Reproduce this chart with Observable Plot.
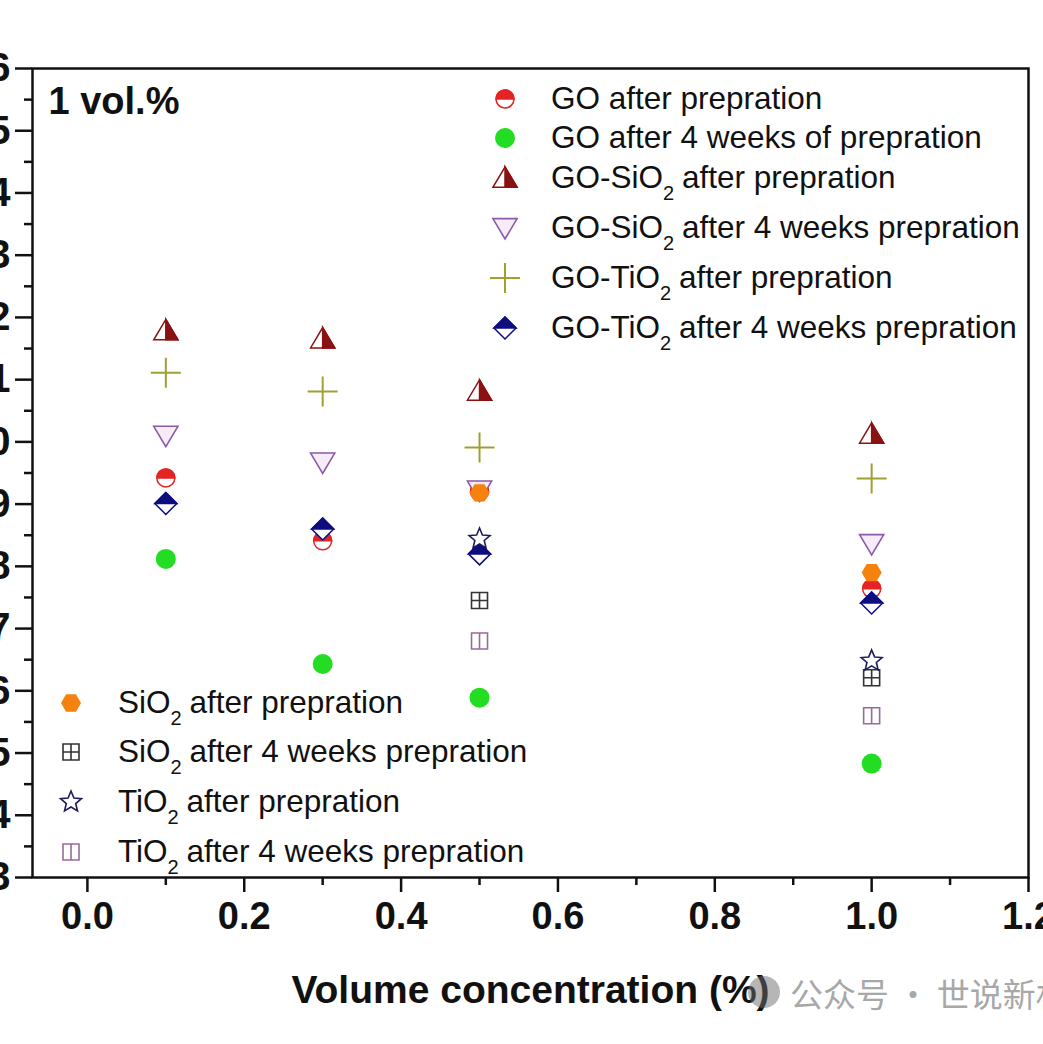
<!DOCTYPE html>
<html><head><meta charset="utf-8">
<script src="https://cdn.jsdelivr.net/npm/d3@7"></script>
<script src="https://cdn.jsdelivr.net/npm/@observablehq/plot@0.6"></script>
<style>
body{margin:0;background:#fff;}
#wrap{position:relative;width:1043px;height:1044px;overflow:hidden;background:#fff;}
#chart{position:absolute;left:-60px;top:0;}
.row{position:absolute;white-space:nowrap;display:flex;align-items:center;height:40px;font-family:"Liberation Sans",Arial,sans-serif;font-size:31.5px;color:#111;}
.row span{line-height:1;}
.row sub{font-size:20px;vertical-align:-12px;line-height:0;margin-right:-1px;}
#wm{position:absolute;left:790px;top:970px;font-family:"Noto Sans CJK SC",sans-serif;font-size:33px;color:#a8a8a8;white-space:nowrap;line-height:46px;}
#wmIcon{position:absolute;left:748px;top:976px;width:32px;height:32px;border-radius:50%;background:rgba(110,110,110,0.5);}
</style>
</head><body>
<div id="wrap"><div id="chart"></div><div id="legend"></div><div id="wmIcon"></div><div id="wm">公众号 · 世说新材</div></div>
<script>
// ---- data ----
const xConc = [0.1, 0.3, 0.5, 1.0];
const xConcOxide = [0.5, 1.0];
const goAfter = [9.42, 8.41, 9.20, 7.64];
const goFourWeeks = [8.12, 6.43, 5.89, 4.83];
const goSiO2After = [11.79, 11.66, 10.82, 10.13];
const goSiO2FourWeeks = [10.10, 9.67, 9.22, 8.36];
const goTiO2After = [11.11, 10.81, 9.91, 9.41];
const goTiO2FourWeeks = [9.01, 8.60, 8.20, 7.41];
const sio2After = [9.18, 7.90];
const sio2FourWeeks = [7.45, 6.21];
const tio2After = [8.44, 6.48];
const tio2FourWeeks = [6.80, 5.60];
const yTicks = d3.range(3, 17);
const yMinor = d3.range(3.5, 16, 1);
const xTicks = [0, 0.2, 0.4, 0.6, 0.8, 1.0, 1.2];
const xMinor = [0.1, 0.3, 0.5, 0.7, 0.9, 1.1];
const xLabel = "Volume concentration (%)";
const panelLabel = "1 vol.%";

// ---- symbols ----
function sym(fn){ return {draw(c, size){ const r = Math.sqrt(size/Math.PI); fn(c, r); }}; }
const S = {
  circle: sym((c,r)=>{c.moveTo(r,0); c.arc(0,0,r,0,2*Math.PI);}),
  topHalf: sym((c,r)=>{c.moveTo(r,0); c.arc(0,0,r,0,Math.PI,true); c.closePath();}),
  triUp: sym((c,r)=>{c.moveTo(0,-r); c.lineTo(1.1*r,0.85*r); c.lineTo(-1.1*r,0.85*r); c.closePath();}),
  triUpRight: sym((c,r)=>{c.moveTo(0,-r); c.lineTo(1.1*r,0.85*r); c.lineTo(0,0.85*r); c.closePath();}),
  triDown: sym((c,r)=>{c.moveTo(-1.1*r,-0.85*r); c.lineTo(1.1*r,-0.85*r); c.lineTo(0,r); c.closePath();}),
  plus: sym((c,r)=>{c.moveTo(-r,0); c.lineTo(r,0); c.moveTo(0,-r); c.lineTo(0,r);}),
  diamond: sym((c,r)=>{c.moveTo(0,-r); c.lineTo(r,0); c.lineTo(0,r); c.lineTo(-r,0); c.closePath();}),
  diamondTop: sym((c,r)=>{c.moveTo(-r,0); c.lineTo(0,-r); c.lineTo(r,0); c.closePath();}),
  hexagon: sym((c,r)=>{for(let i=0;i<6;i++){const a=Math.PI/3*i; const px=r*Math.cos(a), py=r*Math.sin(a); if(i) c.lineTo(px,py); else c.moveTo(px,py);} c.closePath();}),
  squareCross: sym((c,r)=>{c.rect(-r,-r,2*r,2*r); c.moveTo(0,-r); c.lineTo(0,r); c.moveTo(-r,0); c.lineTo(r,0);}),
  squareV: sym((c,r)=>{c.rect(-r,-r,2*r,2*r); c.moveTo(0,-r); c.lineTo(0,r);}),
  star: sym((c,r)=>{for(let i=0;i<10;i++){const rr = i%2 ? r*0.45 : r; const a = -Math.PI/2 + i*Math.PI/5; const px=rr*Math.cos(a), py=rr*Math.sin(a); if(i) c.lineTo(px,py); else c.moveTo(px,py);} c.closePath();})
};

const RED="#e42424", GREEN="#22dd22", DARKRED="#8b1212", PURPLE="#8a5aa8", OLIVE="#a0a030",
      NAVY="#0d0d80", ORANGE="#f5820f", GRAY="#333333", STAR="#1c1c5a", VIOLET="#9a6a9a";

const series = [
  {html:"GO after prepration", x:xConc, y:goAfter, r:9, layers:[{s:"circle",fill:"#fff",stroke:RED,sw:1.5},{s:"topHalf",fill:RED,stroke:RED,sw:1.5}]},
  {html:"GO after 4 weeks of prepration", x:xConc, y:goFourWeeks, r:10, layers:[{s:"circle",fill:GREEN,stroke:"none",sw:0}]},
  {html:"GO-SiO<sub>2</sub> after prepration", x:xConc, y:goSiO2After, r:11, layers:[{s:"triUp",fill:"#fff",stroke:DARKRED,sw:1.5},{s:"triUpRight",fill:DARKRED,stroke:DARKRED,sw:1.5}]},
  {html:"GO-SiO<sub>2</sub> after 4 weeks prepration", x:xConc, y:goSiO2FourWeeks, r:11, layers:[{s:"triDown",fill:"#f6ecf8",stroke:PURPLE,sw:1.6}]},
  {html:"GO-TiO<sub>2</sub> after prepration", x:xConc, y:goTiO2After, r:15, layers:[{s:"plus",fill:"none",stroke:OLIVE,sw:2}]},
  {html:"GO-TiO<sub>2</sub> after 4 weeks prepration", x:xConc, y:goTiO2FourWeeks, r:11, layers:[{s:"diamond",fill:"#fff",stroke:NAVY,sw:1.5},{s:"diamondTop",fill:NAVY,stroke:NAVY,sw:1.5}]},
  {html:"SiO<sub>2</sub> after prepration", x:xConcOxide, y:sio2After, r:10, layers:[{s:"hexagon",fill:ORANGE,stroke:"none",sw:0}]},
  {html:"SiO<sub>2</sub> after 4 weeks prepration", x:xConcOxide, y:sio2FourWeeks, r:8, layers:[{s:"squareCross",fill:"#fff",stroke:GRAY,sw:1.6}]},
  {html:"TiO<sub>2</sub> after prepration", x:xConcOxide, y:tio2After, r:11, layers:[{s:"star",fill:"#fff",stroke:STAR,sw:1.6}]},
  {html:"TiO<sub>2</sub> after 4 weeks prepration", x:xConcOxide, y:tio2FourWeeks, r:8, layers:[{s:"squareV",fill:"#fff",stroke:VIOLET,sw:1.6}]}
];

const SANS = "'Liberation Sans',Arial,sans-serif";

const marks = [];
for (const s of series) {
  const idx = d3.range(s.x.length);
  for (const L of s.layers) {
    marks.push(Plot.dot(idx, {x: i => s.x[i], y: i => s.y[i], symbol: S[L.s], r: s.r,
      fill: L.fill, stroke: L.stroke, strokeWidth: L.sw}));
  }
}

const chart = Plot.plot({
  width: 1103, height: 1044,
  marginLeft: 92, marginRight: 15, marginTop: 68, marginBottom: 167,
  style: {fontFamily: SANS, background: "transparent", overflow: "visible"},
  x: {domain: [-0.07, 1.2]},
  y: {domain: [3, 16]},
  marks: [
    Plot.axisY(yTicks, {tickSize: 17, tickPadding: 5, strokeWidth: 2.5, stroke: "#111", fill: "#111",
      fontSize: 40, fontWeight: "bold", fontFamily: SANS, label: null, tickFormat: d => String(d)}),
    Plot.axisY(yMinor, {tickSize: 8, strokeWidth: 2.5, stroke: "#111", tickFormat: () => "", label: null}),
    Plot.axisX(xTicks, {tickSize: 15, tickPadding: 10, strokeWidth: 2.5, stroke: "#111", fill: "#111",
      fontSize: 38, fontWeight: "bold", fontFamily: SANS, label: null, tickFormat: d3.format(".1f")}),
    Plot.axisX(xMinor, {tickSize: 8, strokeWidth: 2.5, stroke: "#111", tickFormat: () => "", label: null}),
    ...marks,
    Plot.frame({stroke: "#111", strokeWidth: 2.5}),
    Plot.text([panelLabel], {frameAnchor: "top-left", dx: 16, dy: 33, textAnchor: "start", lineAnchor: "middle",
      fontSize: 38, fontWeight: "bold", fontFamily: SANS, fill: "#111"}),
    Plot.text([xLabel], {frameAnchor: "bottom", dy: 113, lineAnchor: "middle",
      fontSize: 39, fontWeight: "bold", fontFamily: SANS, fill: "#111"})
  ]
});
document.getElementById("chart").appendChild(chart);

// ---- legends (inside frame) ----
const legend = document.getElementById("legend");
const topRows = [99, 138, 178, 228, 278, 328];
const botRows = [703, 752, 802, 852];
function legendRow(s, symX, textX, cy) {
  const row = document.createElement("div");
  row.className = "row";
  row.style.left = (symX - 20) + "px";
  row.style.top = (cy - 20) + "px";
  const svg = d3.create("svg").attr("width", 40).attr("height", 40);
  for (const L of s.layers) {
    const p = d3.path();
    S[L.s].draw(p, s.r * s.r * Math.PI);
    svg.append("path").attr("transform", "translate(20,20)").attr("d", p.toString())
      .attr("fill", L.fill).attr("stroke", L.stroke).attr("stroke-width", L.sw);
  }
  row.appendChild(svg.node());
  const span = document.createElement("span");
  span.style.marginLeft = (textX - symX - 20) + "px";
  span.innerHTML = s.html;
  row.appendChild(span);
  legend.appendChild(row);
}
series.slice(0, 6).forEach((s, i) => legendRow(s, 505, 551, topRows[i]));
series.slice(6).forEach((s, i) => legendRow(s, 71, 118, botRows[i]));
</script>
</body></html>
